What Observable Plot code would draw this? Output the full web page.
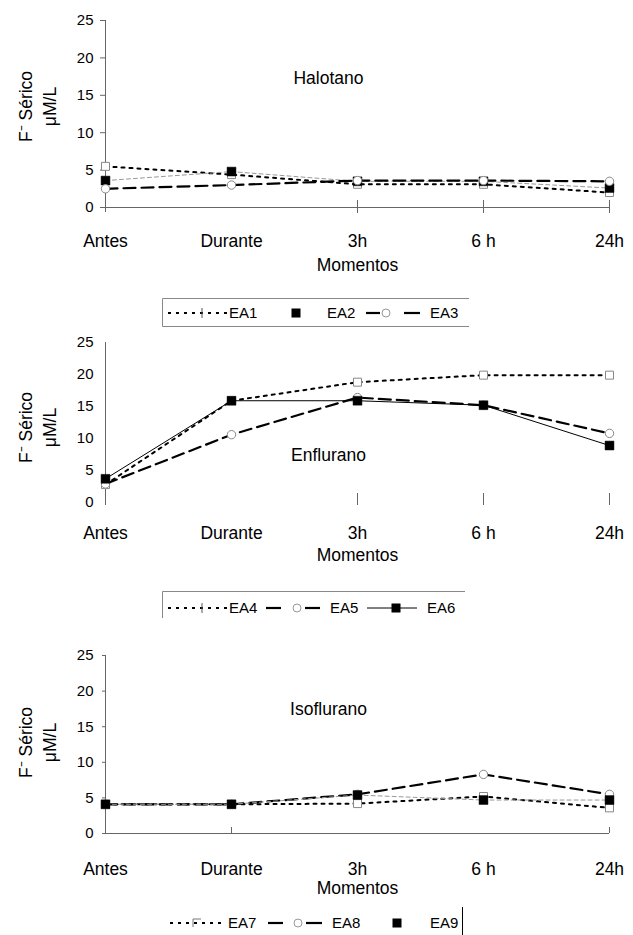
<!DOCTYPE html>
<html><head><meta charset="utf-8">
<script src="https://cdn.jsdelivr.net/npm/d3@7"></script>
<script src="https://cdn.jsdelivr.net/npm/@observablehq/plot@0.6"></script>
<style>
body{margin:0;background:#fff;font-family:"Liberation Sans",Arial,sans-serif;}
#root{position:relative;width:633px;height:935px;overflow:hidden;background:#fff;}
.panel{position:absolute;left:0;}
.legend{position:absolute;left:0;overflow:visible;}
</style></head><body><div id="root"></div>
<script>
// ---- data ----
const categories = ["Antes", "Durante", "3h", "6 h", "24h"];
const yTicks = [0, 5, 10, 15, 20, 25];
const yTitle = "F\u207B Sérico\nμM/L";
const xTitle = "Momentos";
const panelTitles = ["Halotano", "Enflurano", "Isoflurano"];

// Halotano
const ea1 = [5.5, 4.4, 3.1, 3.1, 2.0];
const ea2 = [3.6, 4.8, 3.5, 3.5, 2.6];
const ea3 = [2.5, 3.0, 3.6, 3.6, 3.5];
// Enflurano
const ea4 = [2.8, 15.9, 18.8, 19.9, 19.9];
const ea5 = [2.9, 10.6, 16.4, 15.2, 10.8];
const ea6 = [3.7, 15.9, 15.9, 15.2, 8.9];
// Isoflurano
const ea7 = [4.1, 4.1, 4.2, 5.2, 3.6];
const ea8 = [4.1, 4.1, 5.5, 8.3, 5.5];
const ea9 = [4.1, 4.1, 5.4, 4.7, 4.7];

const seriesNames = ["EA1","EA2","EA3","EA4","EA5","EA6","EA7","EA8","EA9"];

// ---- styles ----
const lineStyles = {
  dotted: {stroke: "#000", strokeWidth: 2, strokeDasharray: "3,5"},
  dashed: {stroke: "#000", strokeWidth: 2.2, strokeDasharray: "12,6"},
  thin: {stroke: "#000", strokeWidth: 1},
  faint: {stroke: "#999", strokeWidth: 1, strokeDasharray: "4,3"}
};
const markerStyles = {
  openSquare: {symbol: "square", r: 4.5, fill: "white", stroke: "#888", strokeWidth: 1},
  openCircle: {symbol: "circle", r: 4.2, fill: "white", stroke: "#888", strokeWidth: 1},
  filledSquare: {symbol: "square", r: 5, fill: "black", stroke: "black", strokeWidth: 0.5}
};

const panels = [
  {title: panelTitles[0], top: 0, height: 290, marginTop: 20, marginBottom: 83,
   series: [{name: seriesNames[0], values: ea1, line: "dotted", marker: "openSquare"},
            {name: seriesNames[1], values: ea2, line: "faint", marker: "filledSquare"},
            {name: seriesNames[2], values: ea3, line: "dashed", marker: "openCircle"}],
   tickCats: [categories[2], categories[3], categories[4]], tickUp: 7, tickDown: 6,
   baseline: true, axisExt: 5, yTickSize: 5, xPad: 27, xTitleDy: 58, titleDy: 58, yTitleDy: -7.5},
  {title: panelTitles[1], top: 330, height: 240, marginTop: 12, marginBottom: 68,
   series: [{name: seriesNames[3], values: ea4, line: "dotted", marker: "openSquare"},
            {name: seriesNames[4], values: ea5, line: "dashed", marker: "openCircle"},
            {name: seriesNames[5], values: ea6, line: "thin", marker: "filledSquare"}],
   tickCats: [categories[2], categories[3], categories[4]], tickUp: 9, tickDown: 3,
   baseline: false, axisExt: 3, yTickSize: 0, xPad: 24, xTitleDy: 53, titleDy: 113, yTitleDy: 5},
  {title: panelTitles[2], top: 625, height: 275, marginTop: 30, marginBottom: 67,
   series: [{name: seriesNames[6], values: ea7, line: "dotted", marker: "openSquare"},
            {name: seriesNames[7], values: ea8, line: "dashed", marker: "openCircle"},
            {name: seriesNames[8], values: ea9, line: "faint", marker: "filledSquare"}],
   tickCats: [categories[1], categories[4]], tickUp: 6, tickDown: 0,
   baseline: true, axisExt: 0, yTickSize: 3, xPad: 29, xTitleDy: 55, titleDy: 54, yTitleDy: -2}
];

const font = '"Liberation Sans", Arial, Helvetica, sans-serif';
const root = document.getElementById("root");

function makePanel(p) {
  const marks = [];
  // y axis line
  marks.push(Plot.ruleX([categories[0]], {y1: 25, y2: 0, insetBottom: -p.axisExt, stroke: "#666", strokeWidth: 1}));
  if (p.baseline) marks.push(Plot.ruleY([0], {stroke: "#666", strokeWidth: 1}));
  marks.push(Plot.ruleX(p.tickCats, {y1: 0, y2: 0, insetTop: -p.tickUp, insetBottom: -p.tickDown, stroke: "#666", strokeWidth: 1}));
  marks.push(Plot.axisY({ticks: yTicks, tickSize: p.yTickSize, tickPadding: 12 - p.yTickSize, fontSize: 15, label: null, stroke: "#666"}));
  marks.push(Plot.axisX({tickSize: 0, tickPadding: p.xPad, fontSize: 17.5, label: null}));
  marks.push(Plot.text([xTitle], {x: () => categories[2], frameAnchor: "bottom", dy: p.xTitleDy, fontSize: 17.5, lineAnchor: "middle"}));
  marks.push(Plot.text([p.title], {x: () => categories[2], frameAnchor: "top", dy: p.titleDy, dx: -29, fontSize: 17.5, lineAnchor: "middle"}));
  marks.push(Plot.text([yTitle], {frameAnchor: "left", textAnchor: "middle", rotate: -90, dx: -69, dy: p.yTitleDy, fontSize: 17.5, lineHeight: 1.36, lineAnchor: "middle"}));
  for (const s of p.series) {
    const rows = categories.map((c, i) => ({cat: c, v: s.values[i], name: s.name}));
    marks.push(Plot.line(rows, {x: "cat", y: "v", ...lineStyles[s.line]}));
    marks.push(Plot.dot(rows, {x: "cat", y: "v", ...markerStyles[s.marker]}));
  }
  const svg = Plot.plot({
    width: 633, height: p.height,
    marginLeft: 105, marginRight: 24, marginTop: p.marginTop, marginBottom: p.marginBottom,
    x: {type: "point", domain: categories, padding: 0},
    y: {domain: [0, 25]},
    style: {fontFamily: font, color: "#000", background: "transparent", overflow: "visible"},
    marks
  });
  svg.classList.add("panel");
  svg.style.position = "absolute";
  svg.style.top = p.top + "px";
  svg.style.left = "0px";
  root.appendChild(svg);
}
panels.forEach(makePanel);

// ---- legends ----
const NS = "http://www.w3.org/2000/svg";
function el(tag, attrs, parent) {
  const e = document.createElementNS(NS, tag);
  for (const k in attrs) e.setAttribute(k, attrs[k]);
  parent.appendChild(e);
  return e;
}
function legendSvg(top, h) {
  const s = document.createElementNS(NS, "svg");
  s.setAttribute("width", 633); s.setAttribute("height", h);
  s.setAttribute("class", "legend");
  s.style.top = top + "px";
  s.style.fontFamily = font;
  root.appendChild(s);
  return s;
}
function label(s, x, y, t) {
  const e = el("text", {x, y, dy: "0.35em", "font-size": 15, fill: "#000"}, s);
  e.textContent = t;
}
function dotted(s, x1, x2, y) { el("line", {x1, x2, y1: y, y2: y, stroke: "#000", "stroke-width": 2, "stroke-dasharray": "3,5"}, s); }
function dash(s, x1, x2, y) { el("line", {x1, x2, y1: y, y2: y, stroke: "#000", "stroke-width": 2.2}, s); }
function circ(s, x, y) { el("circle", {cx: x, cy: y, r: 4, fill: "white", stroke: "#999"}, s); }
function sq(s, x, y) { el("rect", {x: x - 4.5, y: y - 4.5, width: 9, height: 9, fill: "#000"}, s); }

// legend 1
{
  const s = legendSvg(298, 30), y = 15;
  el("path", {d: "M469,0.5H162.5V28.5H469", fill: "none", stroke: "#888"}, s);
  dotted(s, 168, 228, y); el("line", {x1: 202, x2: 202, y1: y - 5, y2: y + 5, stroke: "#555"}, s);
  label(s, 229, y, seriesNames[0]);
  sq(s, 296, y); label(s, 327, y, seriesNames[1]);
  dash(s, 366, 380, y); circ(s, 386, y); dash(s, 404, 420, y); label(s, 430, y, seriesNames[2]);
}
// legend 2
{
  const s = legendSvg(591, 30), y = 17;
  el("path", {d: "M465,0.5H162.5V27", fill: "none", stroke: "#888"}, s);
  dotted(s, 168, 228, y); el("line", {x1: 202, x2: 202, y1: y - 5, y2: y + 5, stroke: "#555"}, s);
  label(s, 229, y, seriesNames[3]);
  dash(s, 266, 281, y); circ(s, 297, y); dash(s, 305, 320, y); label(s, 330, y, seriesNames[4]);
  el("line", {x1: 367, x2: 417, y1: y, y2: y, stroke: "#000", "stroke-width": 1}, s);
  sq(s, 396, y); label(s, 427, y, seriesNames[5]);
}
// legend 3
{
  const s = legendSvg(905, 30), y = 18;
  dotted(s, 170, 225, y);
  el("path", {d: `M193,${y + 4}V${y - 4}H201`, fill: "none", stroke: "#777"}, s);
  label(s, 228, y, seriesNames[6]);
  dash(s, 268, 283, y); circ(s, 298, y); dash(s, 306, 322, y); label(s, 332, y, seriesNames[7]);
  sq(s, 397, y); label(s, 430, y, seriesNames[8]);
  el("line", {x1: 462.5, x2: 462.5, y1: 2, y2: 30, stroke: "#000"}, s);
}
</script></body></html>
